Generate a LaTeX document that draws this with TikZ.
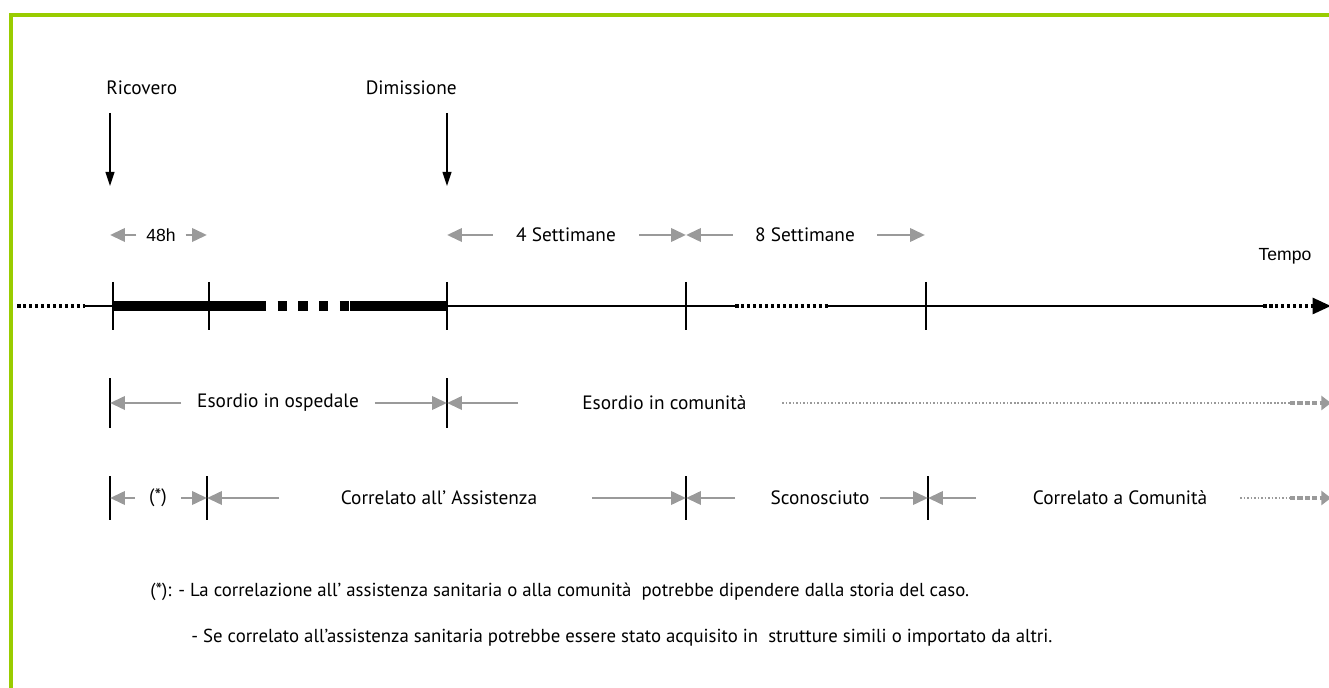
\documentclass[tikz,border=0pt]{standalone}
\usepackage{fontspec}
\setmainfont{PT Sans}
\newfontfamily\arialfont{Liberation Sans}
\usepackage{tikz}
\usetikzlibrary{arrows.meta,positioning}
\definecolor{framegreen}{HTML}{99CC00}
\definecolor{spangray}{HTML}{9A9A9A}

\begin{document}
\begin{tikzpicture}[
  x=0.02cm, y=-0.02cm,
  lbl/.style={font=\fontsize{11}{13}\selectfont, inner ysep=2pt},
  albl/.style={font=\arialfont\fontsize{10}{12}\selectfont, inner ysep=2pt},
  note/.style={font=\fontsize{10.7}{12}\selectfont, anchor=west, inner sep=0pt},
  tickline/.style={line width=0.85pt},
  span/.style={-{Triangle[length=8.5pt, width=7.5pt]}, spangray, line width=1.7pt},
  drop/.style={-{Triangle[length=8pt, width=5pt]}, line width=0.85pt},
  axis/.style={line width=1.1pt},
  stay/.style={line width=6.2pt},
  blackdots/.style={line width=2pt, dash pattern=on 2pt off 1.4pt},
  graydots/.style={spangray, line width=0.9pt, dash pattern=on 0.9pt off 1.1pt},
  graydash/.style={-{Triangle[length=5.5pt, width=8pt]}, spangray, line width=2.2pt, dash pattern=on 3pt off 1.2pt},
]
% Frame
\useasboundingbox (0,0) rectangle (1329,688);
\draw[framegreen, line width=2.3pt] (11,688) -- (11,15) -- (1329,15);

% Admission and discharge
\node[lbl, anchor=west, inner xsep=0pt] (ricovero) at (106,88) {Ricovero};
\node[lbl, anchor=east, inner xsep=0pt] (dimissione) at (457,88) {Dimissione};
\coordinate (ricA) at (110,113);
\coordinate (ricB) at (110,186);
\coordinate (dimA) at (447,113);
\coordinate (dimB) at (447,186);
\draw[drop] (ricA) -- (ricB);
\draw[drop] (dimA) -- (dimB);

% Durations
\node[albl, inner xsep=5.5pt] (h48) at (161,235) {48h};
\node[lbl, inner xsep=13pt] (sett4) at (566,235) {4 Settimane};
\node[lbl, inner xsep=12.5pt] (sett8) at (805,235) {8 Settimane};
\coordinate (du0) at (110,235);
\coordinate (du1) at (207,235);
\coordinate (du2) at (447,235);
\coordinate (du3) at (686,235);
\coordinate (du4) at (925,235);
\draw[span] (h48.west) -- (du0);
\draw[span] (h48.east) -- (du1);
\draw[span] (sett4.west) -- (du2);
\draw[span] (sett4.east) -- (du3);
\draw[span] (sett8.west) -- (du3);
\draw[span] (sett8.east) -- (du4);

% Time axis
\coordinate (ax0) at (17,306);
\coordinate (ax1) at (85,306);
\coordinate (adm) at (113,306);
\coordinate (h48t) at (209,306);
\coordinate (bar0) at (257,306);
\coordinate (bar1) at (350,306);
\coordinate (dis) at (447,306);
\coordinate (w4) at (686,306);
\coordinate (gap0) at (735,306);
\coordinate (gap1) at (828,306);
\coordinate (w8) at (926,306);
\coordinate (ax2) at (1263,306);
\coordinate (ax3) at (1331,306);
\draw[blackdots] (ax0) -- (ax1);
\draw[axis] (ax1) -- (adm);
\draw[stay] (adm) -- (bar0);
\draw[stay, dash pattern=on 5.2pt off 6.6pt] (bar0) -- (bar1);
\draw[stay] (bar1) -- (dis);
\draw[axis] (dis) -- (gap0);
\draw[blackdots] (gap0) -- (gap1);
\draw[axis] (gap1) -- (ax2);
\draw[blackdots, -{Triangle[length=10.5pt, width=9pt]}] (ax2) -- (ax3);
\draw[tickline] ([yshift=0.48cm]adm) -- ([yshift=-0.48cm]adm);
\draw[tickline] ([yshift=0.48cm]h48t) -- ([yshift=-0.48cm]h48t);
\draw[tickline] ([yshift=0.48cm]dis) -- ([yshift=-0.48cm]dis);
\draw[tickline] ([yshift=0.48cm]w4) -- ([yshift=-0.48cm]w4);
\draw[tickline] ([yshift=0.48cm]w8) -- ([yshift=-0.48cm]w8);
\node[albl] (tempo) at (1285,256) {Tempo};

% Onset row
\coordinate (on0) at (110,403);
\coordinate (on1) at (447,403);
\draw[tickline] ([yshift=0.5cm]on0) -- ([yshift=-0.5cm]on0);
\draw[tickline] ([yshift=0.5cm]on1) -- ([yshift=-0.5cm]on1);
\node[lbl, inner xsep=9pt] (osp) at (278,403) {Esordio in ospedale};
\draw[span] (osp.west) -- (on0);
\draw[span] (osp.east) -- (on1);
\coordinate (comA) at (518,403);
\draw[span] (comA) -- (on1);
\node[lbl, anchor=west, inner xsep=0pt] (com) at (582,403) {Esordio in comunità};
\coordinate (comB) at (782,403);
\coordinate (comC) at (1290,403);
\coordinate (comD) at (1331,403);
\draw[graydots] (comB) -- (comC);
\draw[graydash] (comC) -- (comD);

% Origin row
\coordinate (or0) at (110,498);
\coordinate (or1) at (207,498);
\coordinate (or2) at (686,498);
\coordinate (or3) at (928,498);
\draw[tickline] ([yshift=0.44cm]or0) -- ([yshift=-0.44cm]or0);
\draw[tickline] ([yshift=0.44cm]or1) -- ([yshift=-0.44cm]or1);
\draw[tickline] ([yshift=0.44cm]or2) -- ([yshift=-0.44cm]or2);
\draw[tickline] ([yshift=0.44cm]or3) -- ([yshift=-0.44cm]or3);
\node[lbl, inner xsep=8pt] (star) at (158,498) {(*)};
\draw[span] (star.west) -- (or0);
\draw[span] (star.east) -- (or1);
\node[lbl] (ass) at (439,498) {Correlato all’ Assistenza};
\coordinate (assA) at (279,498);
\coordinate (assB) at (592,498);
\draw[span] (assA) -- (or1);
\draw[span] (assB) -- (or2);
\node[lbl] (scon) at (820,498) {Sconosciuto};
\coordinate (sconA) at (735,498);
\coordinate (sconB) at (880,498);
\draw[span] (sconA) -- (or2);
\draw[span] (sconB) -- (or3);
\node[lbl] (comu) at (1120,498) {Correlato a Comunità};
\coordinate (comuA) at (976,498);
\coordinate (comuB) at (1240,498);
\coordinate (comuC) at (1290,498);
\coordinate (comuD) at (1331,498);
\draw[span] (comuA) -- (or3);
\draw[graydots] (comuB) -- (comuC);
\draw[graydash] (comuC) -- (comuD);

% Footnote
\node[note] (note1) at (150,592) {(*): - La correlazione all’ assistenza sanitaria o alla comunità\ \ potrebbe dipendere dalla storia del caso.};
\node[note] (note2) at (191,638) {- Se correlato all’assistenza sanitaria potrebbe essere stato acquisito in\ \ strutture simili o importato da altri.};
\end{tikzpicture}
\end{document}
